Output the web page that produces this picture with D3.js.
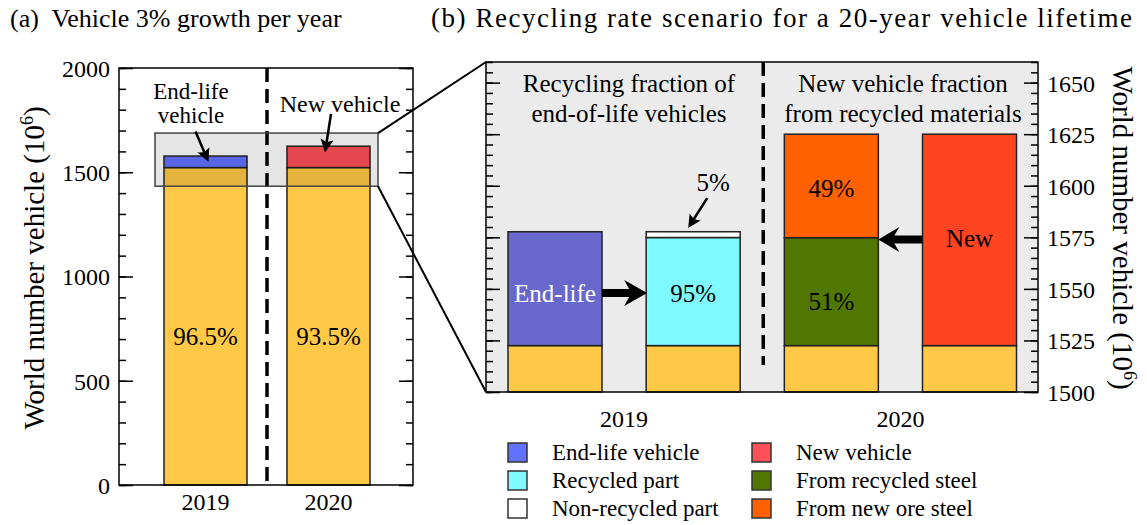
<!DOCTYPE html>
<html>
<head>
<meta charset="utf-8">
<script src="https://cdn.jsdelivr.net/npm/d3@7"></script>
<style>
  body { margin: 0; background: #fff; }
</style>
</head>
<body>
<div id="chart"></div>
<script>
// ---- data ----
var years = ["2019", "2020"];
var keptVehicles = [1522.5, 1522.5];     // vehicles still on the road (yellow)
var changedVehicles = [55.2, 102.5];     // end-life in 2019, new in 2020
var keptShare = ["96.5%", "93.5%"];

var scenarioBars = ["endLife", "recycled", "fromSteel", "newVeh"];
var scenarioBase = [1522.5, 1522.5, 1522.5, 1522.5];
var scenarioLower = [55.2, 52.4, 52.3, 102.5];
var scenarioUpper = [0, 2.8, 50.2, 0];

var ticksA = [0, 500, 1000, 1500, 2000];
var ticksB = [1500, 1525, 1550, 1575, 1600, 1625, 1650];

var legendLabels = ["End-life vehicle", "Recycled part", "Non-recycled part",
                    "New vehicle", "From recycled steel", "From new ore steel"];

// ---- styles ----
var serif = "Liberation Serif, Times New Roman, Times, Tinos, Nimbus Roman, Nimbus Roman No9 L, " +
    "FreeSerif, Noto Serif, DejaVu Serif, Georgia, serif";
var yellow = "#ffc947";
var colA = ["#6272ff", "#ff5058"];
var colLower = ["#6868cc", "#7df9ff", "#507800", "#ff4422"];
var colUpper = ["none", "#ffffff", "#ff6000", "none"];
var legendColors = ["#6272ff", "#7df9ff", "#ffffff", "#ff5058", "#507800", "#ff6000"];

var width = 1147, height = 525;

var svg = d3.select("#chart").append("svg")
    .attr("width", width)
    .attr("height", height)
    .style("font-family", serif)
    .attr("viewBox", "0 0 " + width + " " + height);

function arrowPath(x1, y1, x2, y2, w, L, H, n) {
    var dx = x2 - x1, dy = y2 - y1, len = Math.sqrt(dx * dx + dy * dy);
    var ux = dx / len, uy = dy / len, vx = -uy, vy = ux;
    var p = [
        [x1 + vx * w / 2, y1 + vy * w / 2],
        [x2 - ux * (L - n) + vx * w / 2, y2 - uy * (L - n) + vy * w / 2],
        [x2 - ux * L + vx * H, y2 - uy * L + vy * H],
        [x2, y2],
        [x2 - ux * L - vx * H, y2 - uy * L - vy * H],
        [x2 - ux * (L - n) - vx * w / 2, y2 - uy * (L - n) - vy * w / 2],
        [x1 - vx * w / 2, y1 - vy * w / 2]
    ];
    return "M" + p.map(function (d) { return d.join(","); }).join("L") + "Z";
}

function arrow(g, x1, y1, x2, y2, w, L, H, n) {
    g.append("path").attr("d", arrowPath(x1, y1, x2, y2, w, L, H, n)).attr("fill", "#000");
}

function label(g, x, y, size, txt) {
    return g.append("text").attr("x", x).attr("y", y)
        .attr("text-anchor", "middle").attr("font-size", size)
        .style("font-family", serif).text(txt);
}

function yLabel(g, x, y, rot) {
    var t = g.append("text")
        .attr("transform", "translate(" + x + "," + y + ") rotate(" + rot + ")")
        .attr("text-anchor", "middle")
        .attr("font-size", 29)
        .style("font-family", serif)
        .text("World number vehicle (10");
    t.append("tspan").attr("dy", -11).attr("font-size", 18).text("6");
    t.append("tspan").attr("dy", 11).text(")");
}

// ================= panel (a) =================
var aLeft = 119, aRight = 413, aTop = 68, aBottom = 485;
var ya = d3.scaleLinear().domain([0, 2000]).range([aBottom, aTop]);
var xa = d3.scalePoint().domain(years).range([205.5, 328.5]);
var barWA = 83;

var ga = svg.append("g");

// bars
ga.selectAll(".keptA").data(years).enter().append("rect")
    .attr("x", function (d) { return xa(d) - barWA / 2; })
    .attr("y", function (d, i) { return ya(keptVehicles[i]); })
    .attr("width", barWA)
    .attr("height", function (d, i) { return ya(0) - ya(keptVehicles[i]); })
    .attr("fill", yellow).attr("stroke", "#222").attr("stroke-width", 1.5);

ga.selectAll(".changedA").data(years).enter().append("rect")
    .attr("x", function (d) { return xa(d) - barWA / 2; })
    .attr("y", function (d, i) { return ya(keptVehicles[i] + changedVehicles[i]); })
    .attr("width", barWA)
    .attr("height", function (d, i) { return ya(keptVehicles[i]) - ya(keptVehicles[i] + changedVehicles[i]); })
    .attr("fill", function (d, i) { return colA[i]; }).attr("stroke", "#222").attr("stroke-width", 1.5);

years.forEach(function (d, i) { label(ga, xa(d), ya(673), 25, keptShare[i]); });

// dashed separator
var midA = (xa(years[0]) + xa(years[1])) / 2;
ga.append("line").attr("x1", midA).attr("x2", midA).attr("y1", aTop).attr("y2", aBottom - 3)
    .attr("stroke", "#000").attr("stroke-width", 3.5).attr("stroke-dasharray", "14,7");

// zoom highlight box
var zoomBox = [1433, 1688];
var boxL = xa(years[0]) - barWA / 2 - 9, boxR = xa(years[1]) + barWA / 2 + 8;
ga.append("rect")
    .attr("x", boxL).attr("y", ya(zoomBox[1]))
    .attr("width", boxR - boxL).attr("height", ya(zoomBox[0]) - ya(zoomBox[1]))
    .attr("fill", "#000").attr("fill-opacity", 0.1)
    .attr("stroke", "#444").attr("stroke-width", 1.5);

// frame + ticks
ga.append("rect").attr("x", aLeft).attr("y", aTop).attr("width", aRight - aLeft).attr("height", aBottom - aTop)
    .attr("fill", "none").attr("stroke", "#000").attr("stroke-width", 1.5);

var minorA = d3.range(0, 2001, 100);
function ticksOn(g, axis) {
    g.call(axis);
    g.attr("font-family", null);
    g.select(".domain").remove();
    g.selectAll(".tick line").attr("stroke", "#000").attr("stroke-width", 1.5);
    g.selectAll("text").attr("font-size", 24).style("font-family", serif).attr("fill", "#000").attr("dy", "0.35em");
}
ticksOn(ga.append("g").attr("transform", "translate(" + aLeft + ",0)"),
    d3.axisLeft(ya).tickValues(minorA).tickSize(-7).tickFormat(""));
ticksOn(ga.append("g").attr("transform", "translate(" + aRight + ",0)"),
    d3.axisRight(ya).tickValues(minorA).tickSize(-7).tickFormat(""));
ticksOn(ga.append("g").attr("transform", "translate(" + aRight + ",0)"),
    d3.axisRight(ya).tickValues(ticksA).tickSize(-14).tickFormat(""));
ticksOn(ga.append("g").attr("transform", "translate(" + aLeft + ",0)"),
    d3.axisLeft(ya).tickValues(ticksA).tickSize(-14).tickPadding(9).tickFormat(d3.format("d")));

years.forEach(function (d) { label(ga, xa(d), aBottom + 25, 24, d); });

// annotations
label(ga, xa(years[0]) - 14.5, 99, 23, "End-life");
label(ga, xa(years[0]) - 14.5, 123, 23, "vehicle");
arrow(ga, xa(years[0]) - 10, ya(1695), xa(years[0]) + 3, ya(1550), 2.5, 13, 6.5, 2);
label(ga, xa(years[1]) + 11.5, 112, 24, "New vehicle");
arrow(ga, xa(years[1]) + 2.5, ya(1780), xa(years[1]) - 3.5, ya(1595), 2.5, 13, 6.5, 2);

yLabel(ga, 44, 268, -90);
ga.append("text").attr("x", 10).attr("y", 27).attr("font-size", 26).style("font-family", serif)
    .attr("xml:space", "preserve").text("(a)  Vehicle 3% growth per year");

// ================= panel (b) =================
var bLeft = 486, bRight = 1038, bTop = 62, bBottom = 392;
var yb = d3.scaleLinear().domain([1500, 1660]).range([bBottom, bTop]);
var xb = d3.scalePoint().domain(scenarioBars).range([555, 969.5]);
var barWB = 94;

var gb = svg.append("g");

// zoom connector lines
gb.append("line").attr("x1", boxR).attr("y1", ya(zoomBox[1])).attr("x2", bLeft).attr("y2", bTop)
    .attr("stroke", "#000").attr("stroke-width", 2);
gb.append("line").attr("x1", boxR).attr("y1", ya(zoomBox[0])).attr("x2", bLeft).attr("y2", bBottom)
    .attr("stroke", "#000").attr("stroke-width", 2);

gb.append("rect").attr("x", bLeft).attr("y", bTop).attr("width", bRight - bLeft).attr("height", bBottom - bTop)
    .attr("fill", "#ebebeb");

gb.selectAll(".baseB").data(scenarioBars).enter().append("rect")
    .attr("x", function (d) { return xb(d) - barWB / 2; })
    .attr("y", function (d, i) { return yb(scenarioBase[i]); })
    .attr("width", barWB)
    .attr("height", function (d, i) { return yb(1500) - yb(scenarioBase[i]); })
    .attr("fill", yellow).attr("stroke", "#222").attr("stroke-width", 1.5);

gb.selectAll(".lowerB").data(scenarioBars).enter().append("rect")
    .attr("x", function (d) { return xb(d) - barWB / 2; })
    .attr("y", function (d, i) { return yb(scenarioBase[i] + scenarioLower[i]); })
    .attr("width", barWB)
    .attr("height", function (d, i) { return yb(scenarioBase[i]) - yb(scenarioBase[i] + scenarioLower[i]); })
    .attr("fill", function (d, i) { return colLower[i]; }).attr("stroke", "#222").attr("stroke-width", 1.5);

gb.selectAll(".upperB").data(scenarioBars.filter(function (d, i) { return scenarioUpper[i] > 0; }))
    .enter().append("rect")
    .attr("x", function (d) { return xb(d) - barWB / 2; })
    .attr("y", function (d) { var i = scenarioBars.indexOf(d); return yb(scenarioBase[i] + scenarioLower[i] + scenarioUpper[i]); })
    .attr("width", barWB)
    .attr("height", function (d) {
        var i = scenarioBars.indexOf(d);
        return yb(scenarioBase[i] + scenarioLower[i]) - yb(scenarioBase[i] + scenarioLower[i] + scenarioUpper[i]);
    })
    .attr("fill", function (d) { return colUpper[scenarioBars.indexOf(d)]; }).attr("stroke", "#222").attr("stroke-width", 1.5);

// dashed separator
var midB = (xb("recycled") + xb("fromSteel")) / 2 + 1;
gb.append("line").attr("x1", midB).attr("x2", midB).attr("y1", bTop).attr("y2", 365)
    .attr("stroke", "#000").attr("stroke-width", 3.5).attr("stroke-dasharray", "14,7");

gb.append("rect").attr("x", bLeft).attr("y", bTop).attr("width", bRight - bLeft).attr("height", bBottom - bTop)
    .attr("fill", "none").attr("stroke", "#000").attr("stroke-width", 1.5);

var minorB = d3.range(1500, 1661, 5);
ticksOn(gb.append("g").attr("transform", "translate(" + bLeft + ",0)"),
    d3.axisLeft(yb).tickValues(minorB).tickSize(-7).tickFormat(""));
ticksOn(gb.append("g").attr("transform", "translate(" + bLeft + ",0)"),
    d3.axisLeft(yb).tickValues(ticksB).tickSize(-14).tickFormat(""));
ticksOn(gb.append("g").attr("transform", "translate(" + bRight + ",0)"),
    d3.axisRight(yb).tickValues(minorB).tickSize(-7).tickFormat(""));
ticksOn(gb.append("g").attr("transform", "translate(" + bRight + ",0)"),
    d3.axisRight(yb).tickValues(ticksB).tickSize(-14).tickPadding(9).tickFormat(d3.format("d")));

label(gb, (xb("endLife") + xb("recycled")) / 2, bBottom + 35, 24, years[0]);
label(gb, (xb("fromSteel") + xb("newVeh")) / 2, bBottom + 35, 24, years[1]);

// annotations
label(gb, 629, 92, 25, "Recycling fraction of");
label(gb, 629, 122, 25, "end-of-life vehicles");
label(gb, 903, 92, 25, "New vehicle fraction");
label(gb, 903, 122, 25, "from recycled materials");

label(gb, xb("endLife"), yb(1543.5), 25, "End-life").attr("fill", "#fff");
label(gb, xb("recycled"), yb(1543.5), 25, "95%");
label(gb, xb("fromSteel"), yb(1540), 25, "51%");
label(gb, xb("fromSteel"), yb(1594.5), 25, "49%");
label(gb, xb("newVeh"), yb(1570.5), 25, "New");
label(gb, xb("recycled") + 20, yb(1597.5), 25, "5%");
arrow(gb, xb("recycled") + 14, yb(1594), xb("recycled") - 5, yb(1579.5), 2.5, 13, 6.5, 2);

arrow(gb, xb("endLife") + barWB / 2, yb(1548), xb("recycled") - barWB / 2 + 1, yb(1548), 8, 23, 13, 5);
arrow(gb, xb("newVeh") - barWB / 2, yb(1574), xb("fromSteel") + barWB / 2, yb(1574), 8, 21, 12.5, 5);

yLabel(gb, 1113, 228, 90);
gb.append("text").attr("x", 431).attr("y", 27).attr("font-size", 27).style("font-family", serif)
    .attr("textLength", 701).attr("lengthAdjust", "spacing")
    .text("(b) Recycling rate scenario for a 20-year vehicle lifetime");

// legend
var lg = svg.append("g");
var legendItems = lg.selectAll(".item").data(legendLabels).enter().append("g")
    .attr("transform", function (d, i) {
        return "translate(" + (i < 3 ? 508 : 752) + "," + (443 + (i % 3) * 28) + ")";
    });
legendItems.append("rect").attr("width", 19).attr("height", 19)
    .attr("fill", function (d, i) { return legendColors[i]; })
    .attr("stroke", "#333").attr("stroke-width", 1.5);
legendItems.append("text").attr("x", 44).attr("y", 17).attr("font-size", 23)
    .style("font-family", serif)
    .text(function (d) { return d; });
</script>
</body>
</html>
